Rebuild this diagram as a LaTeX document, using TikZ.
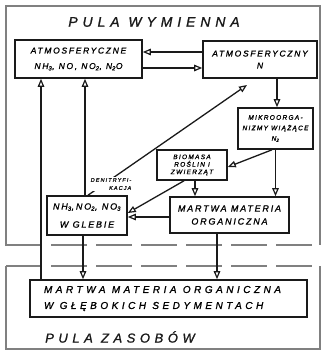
\documentclass[tikz,border=0pt]{standalone}
\usepackage{fontspec}
\usetikzlibrary{arrows.meta}
\newfontfamily\handA[LetterSpace=20,FakeBold=1.2]{Liberation Sans}
\newfontfamily\handB[LetterSpace=35,FakeBold=1.2]{Liberation Sans}
\definecolor{framegray}{HTML}{808080}
\definecolor{ink}{HTML}{1A1A1A}
\tikzset{
  box/.style={draw=ink, line width=1.6pt, inner sep=0pt, align=center},
  arr/.style={draw=ink, line width=1.3pt, -{Triangle[open, length=8pt, width=6.5pt, line width=1.2pt]}},
  frame/.style={draw=framegray, line width=2.2pt},
  dframe/.style={draw=framegray, line width=2.2pt, dash pattern=on 36pt off 9pt},
  txt/.style={text=ink, inner sep=0pt, align=center},
}
\begin{document}
\begin{tikzpicture}[x=1pt, y=-1pt]
\useasboundingbox[fill=white] (0,0) rectangle (323,351);
% frames
\draw[frame] (6,246) -- (6,6) -- (320,6) -- (320,245);
\draw[dframe] (6,245) -- (320,245);
\draw[dframe] (6,266) -- (320,266);
\draw[frame] (6,266) -- (6,349) -- (320,349) -- (320,266);
% titles
\node[txt, font=\handB\itshape\fontsize{14}{16}\selectfont] (t1) at (154,22) {PULA WYMIENNA};
\node[txt, font=\handB\itshape\fontsize{13}{15}\selectfont] (t2) at (120,337) {PULA ZASOBÓW};
% boxes
\node[box, minimum width=127pt, minimum height=38pt, font=\handA\itshape\fontsize{8.5}{15.5}\selectfont] (atmNH) at (78.5,59) {ATMOSFERYCZNE\\NH\textsubscript{3}, NO, NO\textsubscript{2}, N\textsubscript{2}O};
\node[box, minimum width=114pt, minimum height=37pt, font=\handA\itshape\fontsize{8.5}{12}\selectfont] (atmN) at (260,59.5) {ATMOSFERYCZNY\\N};
\node[box, minimum width=75pt, minimum height=41pt, font=\handA\itshape\fontsize{6.5}{10.5}\selectfont] (mikro) at (275.5,128.5) {MIKROORGA-\\NIZMY WIĄŻĄCE\\N\textsubscript{2}};
\node[box, minimum width=70pt, minimum height=30pt, font=\handA\itshape\fontsize{6.5}{7.5}\selectfont] (bio) at (192,165) {BIOMASA\\ROŚLIN I\\ZWIERZĄT};
\node[box, minimum width=80pt, minimum height=39pt, font=\handA\itshape\fontsize{9}{18}\selectfont] (gleba) at (87,215.5) {NH\textsubscript{3},NO\textsubscript{2}, NO\textsubscript{3}\\W GLEBIE};
\node[box, minimum width=119pt, minimum height=36pt, font=\handA\itshape\fontsize{9}{13}\selectfont] (martwa) at (229.5,215) {MARTWA MATERIA\\ORGANICZNA};
\node[box, minimum width=277pt, minimum height=37pt, font=\handB\itshape\fontsize{10}{16}\selectfont, align=left] (deep) at (168.5,298.5) {MARTWA MATERIA ORGANICZNA\hspace*{12pt}\\W GŁĘBOKICH SEDYMENTACH};
% arrows
\draw[arr] ([yshift=7.5pt]atmN.west) -- ([yshift=7.5pt]atmN.west -| atmNH.east);
\draw[arr] ([yshift=-9pt]atmNH.east) -- ([yshift=-9pt]atmNH.east -| atmN.west);
\draw[arr] ([xshift=17pt]atmN.south) -- ([xshift=17pt]atmN.south |- mikro.north);
\draw[arr] ([xshift=-3.5pt]mikro.south) -- ([yshift=-2pt]bio.east);
\draw[arr] (mikro.south) -- (mikro.south |- martwa.north);
\draw[arr] ([xshift=3pt]bio.south) -- ([xshift=3pt]bio.south |- martwa.north);
\draw[arr] ([xshift=-8pt]bio.south) -- ([yshift=2.5pt]gleba.east);
\draw[arr] ([yshift=-2pt]martwa.west) -- ([yshift=-2pt]martwa.west -| gleba.east);
\draw[arr] ([xshift=-2pt]gleba.north) -- ([xshift=-2pt]gleba.north |- atmNH.south);
\draw[arr] ([xshift=-127.5pt]deep.north) -- ([xshift=-127.5pt]deep.north |- atmNH.south);
\draw[arr] ([xshift=-4pt]gleba.south) -- ([xshift=-4pt]gleba.south |- deep.north);
\draw[arr] ([xshift=-12.5pt]martwa.south) -- ([xshift=-12.5pt]martwa.south |- deep.north);
\coordinate (denTip) at (247,85);
\draw[arr] ([xshift=1pt]gleba.north) -- (denTip);
\node[txt, fill=white, inner sep=1pt, font=\handA\itshape\fontsize{5.5}{8}\selectfont, align=right] (den) at (111,184) {DENITRYFI-\\KACJA};
\end{tikzpicture}
\end{document}
